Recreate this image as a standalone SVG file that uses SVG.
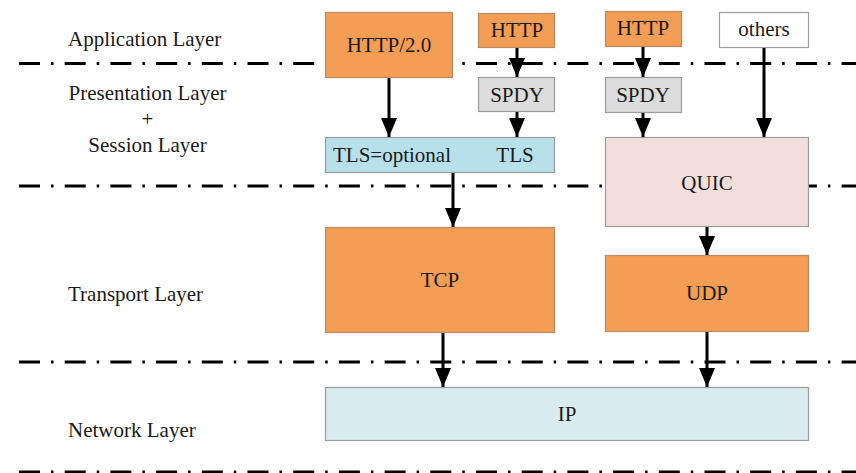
<svg xmlns="http://www.w3.org/2000/svg" width="856" height="473" viewBox="0 0 856 473">
  <style>
    text { font-family: "Liberation Serif", "Times New Roman", serif; font-size: 21px; fill: #1a1a1a; }
    .mid { text-anchor: middle; }
    .sep { stroke: #000; stroke-width: 3; stroke-dasharray: 21 11 2.5 11.2; fill: none; }
    .box { stroke: #9c9c9c; stroke-width: 1.2; }
    .orange { fill: #f49d55; stroke: #b98a66; }
    .tls { fill: #b8e0ea; }
    .spdy { fill: #dcdcdc; }
    .quic { fill: #f2dfdd; }
    .ip { fill: #daebef; }
    .white { fill: #ffffff; }
    .arrow { stroke: #000; stroke-width: 3; fill: none; marker-end: url(#head); }
  </style>
  <defs>
    <!-- solid arrowhead, tip at the line end -->
    <marker id="head" markerUnits="userSpaceOnUse" markerWidth="19" markerHeight="16" refX="19" refY="8" orient="auto" viewBox="0 0 19 16">
      <path d="M0,0 L19,8 L0,16 Z" fill="#000"/>
    </marker>
  </defs>

  <rect width="856" height="473" fill="#ffffff"/>

  <!-- layer separators -->
  <g id="separators">
    <line class="sep" x1="19" y1="63.5" x2="856" y2="63.5"/>
    <line class="sep" x1="19" y1="186" x2="856" y2="186"/>
    <line class="sep" x1="19" y1="362" x2="856" y2="362"/>
    <line class="sep" x1="19" y1="472" x2="856" y2="472"/>
  </g>

  <!-- layer labels -->
  <g id="labels">
    <text x="68" y="46">Application Layer</text>
    <text class="mid" x="147.5" y="100">Presentation Layer</text>
    <text class="mid" x="147.5" y="126">+</text>
    <text class="mid" x="147.5" y="152">Session Layer</text>
    <text x="68" y="301">Transport Layer</text>
    <text x="68" y="437">Network Layer</text>
  </g>

  <g id="http2">
    <rect class="box orange" x="325.5" y="12.5" width="127" height="65"/>
    <text class="mid" x="389" y="52">HTTP/2.0</text>
  </g>
  <g id="http-a">
    <rect class="box orange" x="478.5" y="13.5" width="76" height="34"/>
    <text class="mid" x="517" y="37">HTTP</text>
  </g>
  <g id="spdy-a">
    <rect class="box spdy" x="478.5" y="77.5" width="76" height="34"/>
    <text class="mid" x="517" y="102">SPDY</text>
  </g>
  <g id="tls">
    <rect class="box tls" x="325.5" y="137.5" width="229" height="35"/>
    <text x="333" y="162">TLS=optional</text>
    <text class="mid" x="515" y="162">TLS</text>
  </g>
  <g id="http-b">
    <rect class="box orange" x="605.5" y="11.5" width="76" height="35"/>
    <text class="mid" x="643" y="35">HTTP</text>
  </g>
  <g id="others">
    <rect class="box white" x="719.5" y="12.5" width="89" height="35"/>
    <text class="mid" x="764" y="36">others</text>
  </g>
  <g id="spdy-b">
    <rect class="box spdy" x="605.5" y="77.5" width="76" height="35"/>
    <text class="mid" x="643" y="102">SPDY</text>
  </g>
  <g id="quic">
    <rect class="box quic" x="605.5" y="137.5" width="203" height="89"/>
    <text class="mid" x="707" y="190">QUIC</text>
  </g>
  <g id="tcp">
    <rect class="box orange" x="325.5" y="227.5" width="229" height="105"/>
    <text class="mid" x="440" y="287">TCP</text>
  </g>
  <g id="udp">
    <rect class="box orange" x="605.5" y="255.5" width="203" height="76"/>
    <text class="mid" x="707" y="300">UDP</text>
  </g>
  <g id="ip">
    <rect class="box ip" x="325.5" y="387.5" width="483" height="53"/>
    <text class="mid" x="567" y="421">IP</text>
  </g>

  <!-- connectors -->
  <g id="connectors">
    <line class="arrow" x1="389" y1="78" x2="389" y2="137"/>
    <line class="arrow" x1="517" y1="48" x2="517" y2="77"/>
    <line class="arrow" x1="517" y1="112" x2="517" y2="137"/>
    <line class="arrow" x1="643" y1="47" x2="643" y2="77"/>
    <line class="arrow" x1="643" y1="113" x2="643" y2="137"/>
    <line class="arrow" x1="764" y1="48" x2="764" y2="137"/>
    <line class="arrow" x1="453" y1="173" x2="453" y2="227"/>
    <line class="arrow" x1="707" y1="227" x2="707" y2="255"/>
    <line class="arrow" x1="443" y1="333" x2="443" y2="387"/>
    <line class="arrow" x1="707" y1="332" x2="707" y2="387"/>
  </g>
</svg>
